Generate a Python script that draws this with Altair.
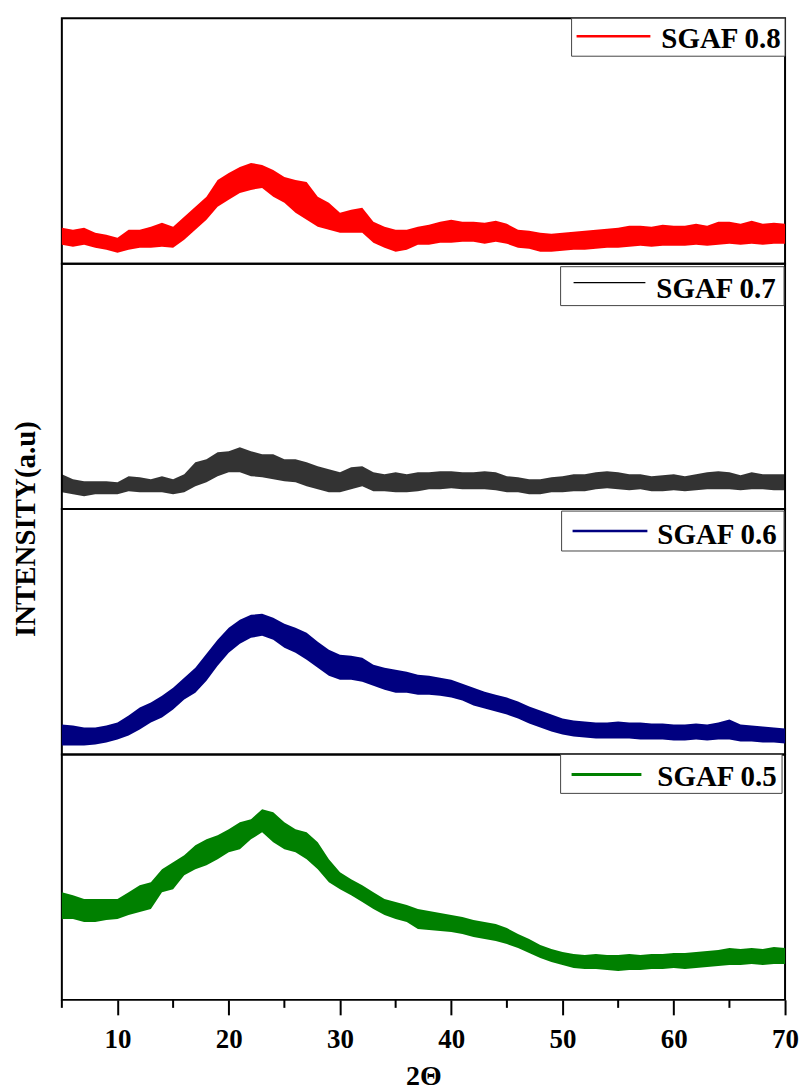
import altair as alt
import pandas as pd

# 2-theta grid (degrees)
two_theta = list(range(5, 71))

# Upper / lower edges of the noisy diffraction traces (counts, a.u.)
sgaf08_hi = [180, 170, 180, 155, 145, 130, 170, 170, 185, 205, 185, 235, 285, 335, 420, 455, 485, 505, 495, 470,
             435, 420, 410, 335, 305, 255, 270, 280, 210, 185, 170, 170, 185, 195, 210, 220, 210, 210, 205, 215,
             200, 170, 165, 155, 150, 155, 160, 165, 170, 175, 180, 190, 190, 185, 195, 190, 190, 200, 190, 210,
             210, 200, 215, 200, 205, 200]
sgaf08_lo = [95, 85, 95, 80, 70, 55, 70, 80, 80, 85, 80, 120, 170, 220, 285, 320, 355, 370, 380, 335,
             305, 255, 220, 185, 170, 155, 155, 155, 105, 80, 60, 70, 95, 95, 105, 105, 110, 110, 100, 110,
             100, 80, 75, 60, 60, 65, 70, 70, 75, 80, 80, 85, 90, 85, 90, 90, 90, 95, 90, 95,
             100, 95, 100, 95, 100, 100]

sgaf07_hi = [175, 150, 140, 140, 140, 135, 165, 160, 150, 165, 150, 175, 235, 250, 285, 290, 310, 290, 275, 275,
             250, 250, 235, 215, 200, 185, 210, 215, 185, 175, 185, 175, 185, 185, 190, 190, 185, 185, 190, 185,
             165, 160, 150, 150, 160, 165, 175, 175, 185, 190, 185, 175, 175, 165, 170, 175, 165, 175, 185, 190,
             185, 170, 185, 175, 175, 175]
sgaf07_lo = [85, 75, 65, 75, 75, 75, 90, 85, 85, 85, 75, 85, 115, 135, 165, 185, 185, 165, 160, 150,
             140, 135, 115, 100, 85, 85, 100, 115, 90, 90, 85, 85, 90, 100, 100, 105, 100, 100, 100, 95,
             85, 85, 75, 75, 85, 85, 90, 90, 100, 105, 100, 95, 100, 90, 90, 95, 90, 95, 100, 100,
             100, 95, 100, 100, 95, 95]

sgaf06_hi = [150, 145, 135, 135, 145, 160, 195, 235, 260, 295, 335, 385, 435, 505, 575, 635, 675, 700, 705, 685,
             655, 635, 610, 565, 525, 500, 495, 485, 450, 435, 425, 415, 400, 395, 385, 375, 355, 335, 315, 300,
             285, 265, 240, 220, 200, 180, 170, 165, 160, 160, 165, 160, 160, 155, 155, 150, 150, 155, 150, 160,
             175, 150, 145, 140, 135, 130]
sgaf06_lo = [45, 45, 45, 50, 60, 75, 95, 125, 160, 185, 225, 275, 310, 370, 445, 510, 555, 585, 595, 575,
             535, 510, 475, 435, 395, 375, 375, 365, 345, 325, 310, 310, 300, 300, 295, 285, 270, 245, 230, 215,
             200, 180, 155, 135, 115, 100, 90, 85, 80, 80, 80, 80, 75, 75, 75, 70, 70, 75, 70, 75,
             75, 65, 65, 60, 60, 55]

sgaf05_hi = [540, 525, 505, 505, 505, 505, 540, 575, 590, 655, 690, 725, 775, 805, 825, 855, 890, 905, 955, 940,
             890, 855, 840, 790, 705, 640, 605, 575, 540, 505, 490, 475, 455, 445, 435, 425, 415, 400, 390, 380,
             360, 330, 305, 275, 255, 240, 230, 225, 230, 225, 225, 230, 225, 230, 230, 235, 235, 240, 245, 250,
             260, 255, 260, 255, 265, 260]
sgaf05_lo = [405, 405, 390, 390, 400, 405, 425, 440, 455, 540, 555, 625, 655, 675, 705, 740, 755, 805, 840, 790,
             755, 740, 705, 655, 590, 555, 525, 490, 455, 425, 405, 390, 355, 350, 345, 340, 330, 315, 305, 295,
             280, 260, 235, 210, 190, 175, 160, 155, 155, 150, 145, 150, 150, 155, 155, 160, 155, 160, 165, 170,
             175, 175, 180, 175, 180, 180]

series_names = ["SGAF 0.8", "SGAF 0.7", "SGAF 0.6", "SGAF 0.5"]
series_hi = [sgaf08_hi, sgaf07_hi, sgaf06_hi, sgaf05_hi]
series_lo = [sgaf08_lo, sgaf07_lo, sgaf06_lo, sgaf05_lo]

major_ticks = [10, 20, 30, 40, 50, 60, 70]
minor_ticks = [5, 15, 25, 35, 45, 55, 65]

# styling
colors = ["#ff0000", "#000000", "#000080", "#008000"]
band_opacity = [1.0, 0.8, 1.0, 1.0]
legend_line_w = [2.5, 1.2, 2.5, 3]
# legend box geometry inside each panel: (box x0, x1, y0, y1, line x0, x1, line y, text x, text baseline)
legend_geom = [
    (511, 725, 0, 38, 516, 590, 18, 601, 30),
    (500, 724, 3, 42, 513, 585, 19, 596, 34),
    (501, 724, 2, 42, 512, 587, 22, 597, 35),
    (500, 722, 0, 39, 511, 581, 20, 597, 32),
]

W, H = 725, 246
SERIF = "Liberation Serif"

x_scale = alt.Scale(domain=[5, 70], nice=False, zero=False)
y_scale = alt.Scale(domain=[0, 1230], nice=False, zero=False)


def make_panel(i):
    df = pd.DataFrame({"two_theta": two_theta, "hi": series_hi[i], "lo": series_lo[i]})
    last = i == len(series_names) - 1
    if last:
        x_axis = alt.Axis(
            values=major_ticks, tickSize=15, tickWidth=2, tickColor="black", domain=False, grid=False,
            labelFont=SERIF, labelFontWeight="bold", labelFontSize=27, labelColor="black",
            labelPadding=12, labelFlush=False, labelOverlap=False,
            title="2Θ", titleFont=SERIF, titleFontWeight="bold", titleFontSize=28,
            titleColor="black", titlePadding=10,
        )
    else:
        x_axis = None

    band = alt.Chart(df).mark_area(color=colors[i], opacity=band_opacity[i]).encode(
        x=alt.X("two_theta:Q", scale=x_scale, axis=x_axis),
        y=alt.Y("hi:Q", scale=y_scale, axis=None),
        y2="lo:Q",
    )

    bx0, bx1, by0, by1, lx0, lx1, ly, tx, ty = legend_geom[i]
    lab = pd.DataFrame({"label": [series_names[i]]})
    box = alt.Chart(lab).mark_rect(fill="white", stroke="#444444", strokeWidth=1).encode(
        x=alt.value(bx0), x2=alt.value(bx1), y=alt.value(by0), y2=alt.value(by1)
    )
    sample = alt.Chart(lab).mark_rule(color=colors[i], strokeWidth=legend_line_w[i]).encode(
        x=alt.value(lx0), x2=alt.value(lx1), y=alt.value(ly)
    )
    text = alt.Chart(lab).mark_text(
        align="left", baseline="alphabetic", font=SERIF, fontWeight="bold", fontSize=29, color="black"
    ).encode(x=alt.value(tx), y=alt.value(ty), text="label:N")

    layers = [band, box, sample, text]

    if last:
        minor = alt.Chart(pd.DataFrame({"t": minor_ticks})).mark_rule(color="black", strokeWidth=2).encode(
            x=alt.X("t:Q", scale=x_scale), y=alt.value(H), y2=alt.value(H + 8)
        )
        layers.append(minor)

    if i == 2:
        ytitle = alt.Chart(pd.DataFrame({"t": ["INTENSITY(a.u)"]})).mark_text(
            angle=270, align="center", baseline="middle", font=SERIF, fontWeight="bold",
            fontSize=29, color="black"
        ).encode(x=alt.value(-36), y=alt.value(20), text="t:N")
        layers.append(ytitle)

    return alt.layer(*layers).properties(width=W, height=H)


chart = alt.vconcat(*[make_panel(i) for i in range(4)], spacing=0, bounds="flush").properties(
    padding={"left": 10, "top": 15, "right": 5, "bottom": 0}
).configure_view(stroke="black", strokeWidth=2)

chart.save("out.html", embed_options={"renderer": "svg", "actions": False})
